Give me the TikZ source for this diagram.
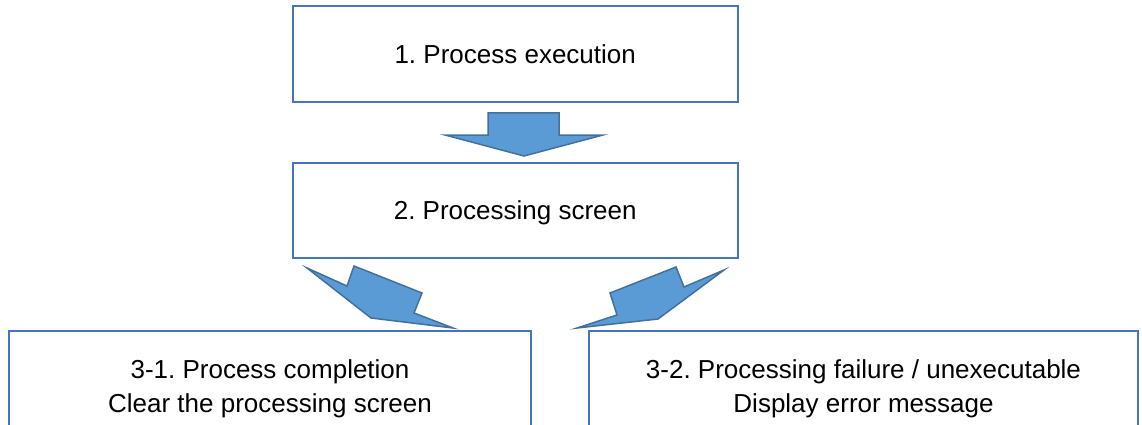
\documentclass[tikz,border=0pt]{standalone}
\usepackage{fontspec}
\setmainfont{Liberation Sans}
\usepackage{tikz}
\usetikzlibrary{positioning}
\definecolor{BoxLine}{HTML}{4472C4}
\definecolor{ArrFill}{HTML}{5B9BD5}
\definecolor{ArrLine}{HTML}{41719C}
\frenchspacing

\begin{document}
\begin{tikzpicture}[x=1pt,y=-1pt,node distance=61pt,
  box/.style={draw=BoxLine,line width=2pt,fill=white,outer sep=0pt,inner sep=0pt,align=center,font=\fontsize{26}{34}\selectfont},
  blockarrow/.style={fill=ArrFill,draw=ArrLine,line width=1.5pt}]
  \useasboundingbox (0,0) rectangle (1142,425);
  \clip (0,0) rectangle (1142,425);
  \node[box,minimum width=445pt,minimum height=95.7pt,text depth=0pt] (exec) at (515.2,53.9) {1. Process execution};
  \node[box,minimum width=445pt,minimum height=95.6pt,text depth=0pt,below=61pt of exec] (screen) {2. Processing screen};
  \node[box,minimum width=522pt,minimum height=115pt] (done) at (270,388.6) {3-1. Process completion\\Clear the processing screen};
  \node[box,minimum width=549pt,minimum height=115pt] (fail) at (863.5,388.6) {3-2. Processing failure / unexecutable\\Display error message};
  % block arrows
  \draw[blockarrow] (488,113) -- (559,113) -- (559,135) -- (603,135) -- (524,156) -- (445,135) -- (488,135) -- cycle;
  \draw[blockarrow] (307,268) -- (347,286) -- (354,266) -- (422,293) -- (414,313) -- (453,328) -- (371,318) -- cycle;
  \draw[blockarrow] (610,293) -- (676,267) -- (684,287) -- (724,270) -- (658,319) -- (577,328) -- (617,315) -- cycle;
\end{tikzpicture}
\end{document}
